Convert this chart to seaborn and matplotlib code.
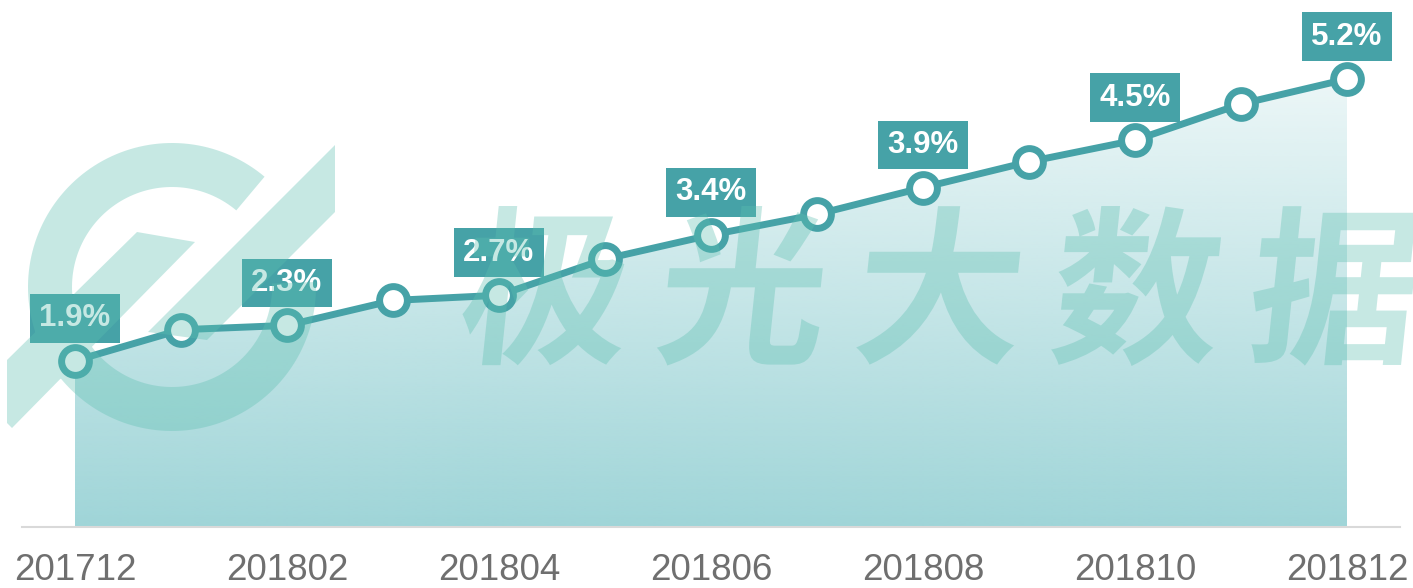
import numpy as np
import pandas as pd
import matplotlib
matplotlib.use("Agg")
import matplotlib.pyplot as plt
import matplotlib.colors as mcolors
import seaborn as sns
from matplotlib.path import Path
from matplotlib.patches import PathPatch, Polygon
from matplotlib.textpath import TextPath
from matplotlib.font_manager import FontProperties
from matplotlib.transforms import Affine2D

months = ["201712", "201801", "201802", "201803", "201804", "201805", "201806",
          "201807", "201808", "201809", "201810", "201811", "201812"]
rates = [1.93, 2.29, 2.34, 2.63, 2.69, 3.11, 3.39, 3.63, 3.94, 4.24, 4.49, 4.91, 5.20]
label_idx = [0, 2, 4, 6, 8, 10, 12]
watermark_text = "极光大数据"

W, H = 1413, 588
TEAL = "#46a2a7"
FILL = "#9fd5d8"
MARK = "#5cbfb0"
GRAY = "#6f6f6f"

sns.set_style("white")
plt.rcParams["font.family"] = ["Liberation Sans", "DejaVu Sans"]

df = pd.DataFrame({"month": months, "rate": rates})
df["pos"] = np.arange(len(df))
n = len(df)

fig = plt.figure(figsize=(W / 100, H / 100), dpi=100)
ax = fig.add_axes([22 / W, 61 / H, 1378 / W, 527 / H])

# gradient area under the line
grad = np.zeros((256, 2, 4))
grad[..., :3] = mcolors.to_rgb(FILL)
grad[..., 3] = np.linspace(1.0, 0.2, 256)[:, None]
im = ax.imshow(grad, extent=[0, n - 1, 0, df.rate.max()], origin="lower",
               aspect="auto", zorder=1, interpolation="bilinear")
area = Polygon(np.column_stack([np.r_[df.pos, n - 1, 0], np.r_[df.rate, 0, 0]]),
               closed=True, facecolor="none", edgecolor="none", transform=ax.transData)
ax.add_patch(area)
im.set_clip_path(area)

sns.lineplot(data=df, x="pos", y="rate", color=TEAL, lw=5, marker="o", ms=20,
             markerfacecolor="white", markeredgecolor=TEAL, markeredgewidth=5,
             ax=ax, zorder=3)

for i in label_idx:
    ax.annotate(f"{rates[i]:.1f}%", (i, rates[i]), xytext=(0, 30.6),
                textcoords="offset points", ha="center", va="center",
                fontsize=22.5, fontweight="bold", color="white", zorder=4,
                bbox=dict(boxstyle="square,pad=0.3", fc=TEAL, ec="none"))

ax.set_xlim(-0.5, n - 0.5)
ax.set_ylim(0, 527 / 86.15)
ax.set_yticks([])
ax.set_xticks(label_idx)
ax.set_xticklabels([months[i] for i in label_idx], fontsize=26.5, color=GRAY)
ax.tick_params(axis="x", length=0, pad=18.5)
ax.set_xlabel("")
ax.set_ylabel("")
for s in ("left", "top", "right"):
    ax.spines[s].set_visible(False)
ax.spines["bottom"].set_color("#d9d9d9")
ax.spines["bottom"].set_linewidth(1.5)


# watermark: logo + text, drawn in pixel units over everything
def closed_ccw(pts):
    pts = np.asarray(pts, float)
    x, y = pts[:, 0], pts[:, 1]
    area2 = np.sum(x * np.roll(y, -1) - np.roll(x, -1) * y)
    if area2 < 0:
        pts = pts[::-1]
    return Path(np.vstack([pts, pts[:1]]), closed=True)


def px(pts):
    return [(x, H - y) for x, y in pts]


paths = []
cx, cy = 172, H - 287
th = np.deg2rad(np.linspace(50, 362, 160))
outer = np.column_stack([cx + 144 * np.cos(th), cy + 144 * np.sin(th)])
inner = np.column_stack([cx + 100 * np.cos(th[::-1]), cy + 100 * np.sin(th[::-1])])
paths.append(closed_ccw(np.vstack([outer, inner])))
paths.append(closed_ccw(px([(335, 145), (335, 212), (207, 340), (148, 332)])))
paths.append(closed_ccw(px([(7, 360), (137, 232), (195, 242), (12, 428), (7, 423)])))

fp = FontProperties(family="Noto Sans CJK SC", weight="black")
full = TextPath((0, 0), watermark_text, size=100, prop=fp).get_extents()
k = 160 / (full.y1 - full.y0)
first = TextPath((0, 0), watermark_text[0], size=100, prop=fp).get_extents()
x_start = 457 - first.x0 * k
for i, ch in enumerate(watermark_text):
    tp = TextPath((0, 0), ch, size=100, prop=fp)
    tr = (Affine2D().translate(0, -full.y0).scale(k).skew_deg(6, 0)
          .translate(x_start + i * 197, H - 366))
    paths.append(tr.transform_path(tp))

mark = PathPatch(Path.make_compound_path(*paths), facecolor=MARK, edgecolor="none",
                 alpha=0.35, zorder=5,
                 transform=Affine2D().scale(1 / W, 1 / H) + fig.transFigure)
fig.patches.append(mark)
mark.set_figure(fig)

fig.savefig("out.png", dpi=100, facecolor="white")
